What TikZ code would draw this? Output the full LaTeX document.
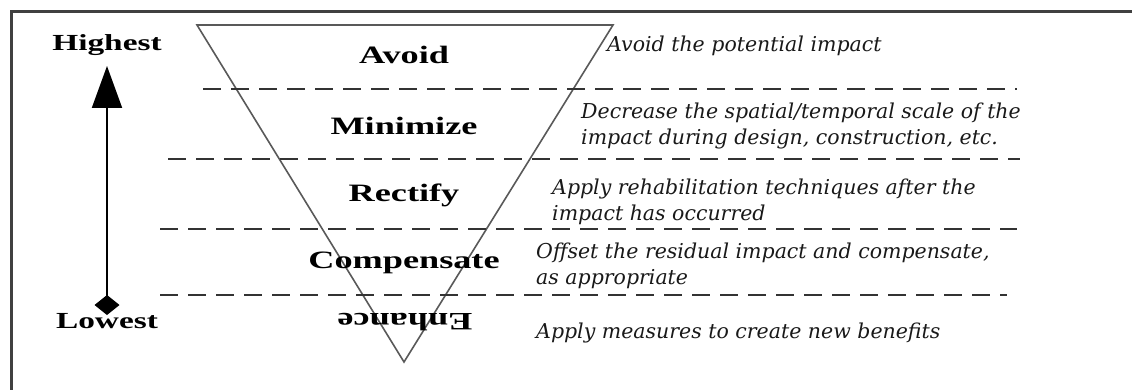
\documentclass[tikz,border=0pt]{standalone}
\usepackage{fontspec}
\setmainfont{Liberation Serif}
\newfontfamily\stagefont[FakeStretch=1.45]{Liberation Serif}
\newfontfamily\notefont{DejaVu Serif}
\usetikzlibrary{arrows.meta,positioning}

\begin{document}
\begin{tikzpicture}[
  x=1pt,y=-1pt,
  stage/.style={font=\stagefont\bfseries\fontsize{25}{30}\selectfont,inner sep=0pt},
  rankend/.style={font=\stagefont\bfseries\fontsize{23}{28}\selectfont,inner sep=0pt},
  note/.style={font=\notefont\itshape\fontsize{20.5}{26}\selectfont,anchor=west,align=left,inner sep=0pt,text=black!90},
  divider/.style={dash pattern=on 18pt off 10pt,line width=2.2pt,draw=black!80},
  funnel/.style={draw=black!65,line width=1.6pt},
  rankarrow/.style={line width=2pt,{Diamond[length=20pt,width=25pt]}-{Triangle[length=42pt,width=30pt]}}
]
\useasboundingbox (0,0) rectangle (1132,390);
\draw[line width=3pt,black!75] (11,390) -- (11,12) -- (1132,12);
\draw[funnel] (197,25) -- (613,25) -- (404,362) -- cycle;
\foreach \y/\xa/\xb in {89/203/1017,159/168/1020,229/160/1017,295/160/1007}
  \draw[divider] (\xa,\y) -- (\xb,\y);
\node[stage] (avoid) at (404,55) {Avoid};
\node[stage] (minimize) at (404,126) {Minimize};
\node[stage] (rectify) at (404,195) {Rectify};
\node[stage] (compensate) at (404,263) {Compensate};
\node[stage,rotate=180] (enhance) at (405,322) {Enhance};
\node[note] (avoidnote) at (607,46) {Avoid the potential impact};
\node[note] (minimizenote) at (581,126) {Decrease the spatial/temporal scale of the\\impact during design, construction, etc.};
\node[note] (rectifynote) at (552,202) {Apply rehabilitation techniques after the\\impact has occurred};
\node[note] (compensatenote) at (536,266) {Offset the residual impact and compensate,\\as appropriate};
\node[note] (enhancenote) at (536,333) {Apply measures to create new benefits};
\coordinate (rankhigh) at (107,66);
\coordinate (ranklow) at (107,315);
\draw[rankarrow] (ranklow) -- (rankhigh);
\node[rankend,above=10pt of rankhigh] (highest) {Highest};
\node[rankend,below=-2pt of ranklow] (lowest) {Lowest};
\end{tikzpicture}
\end{document}
